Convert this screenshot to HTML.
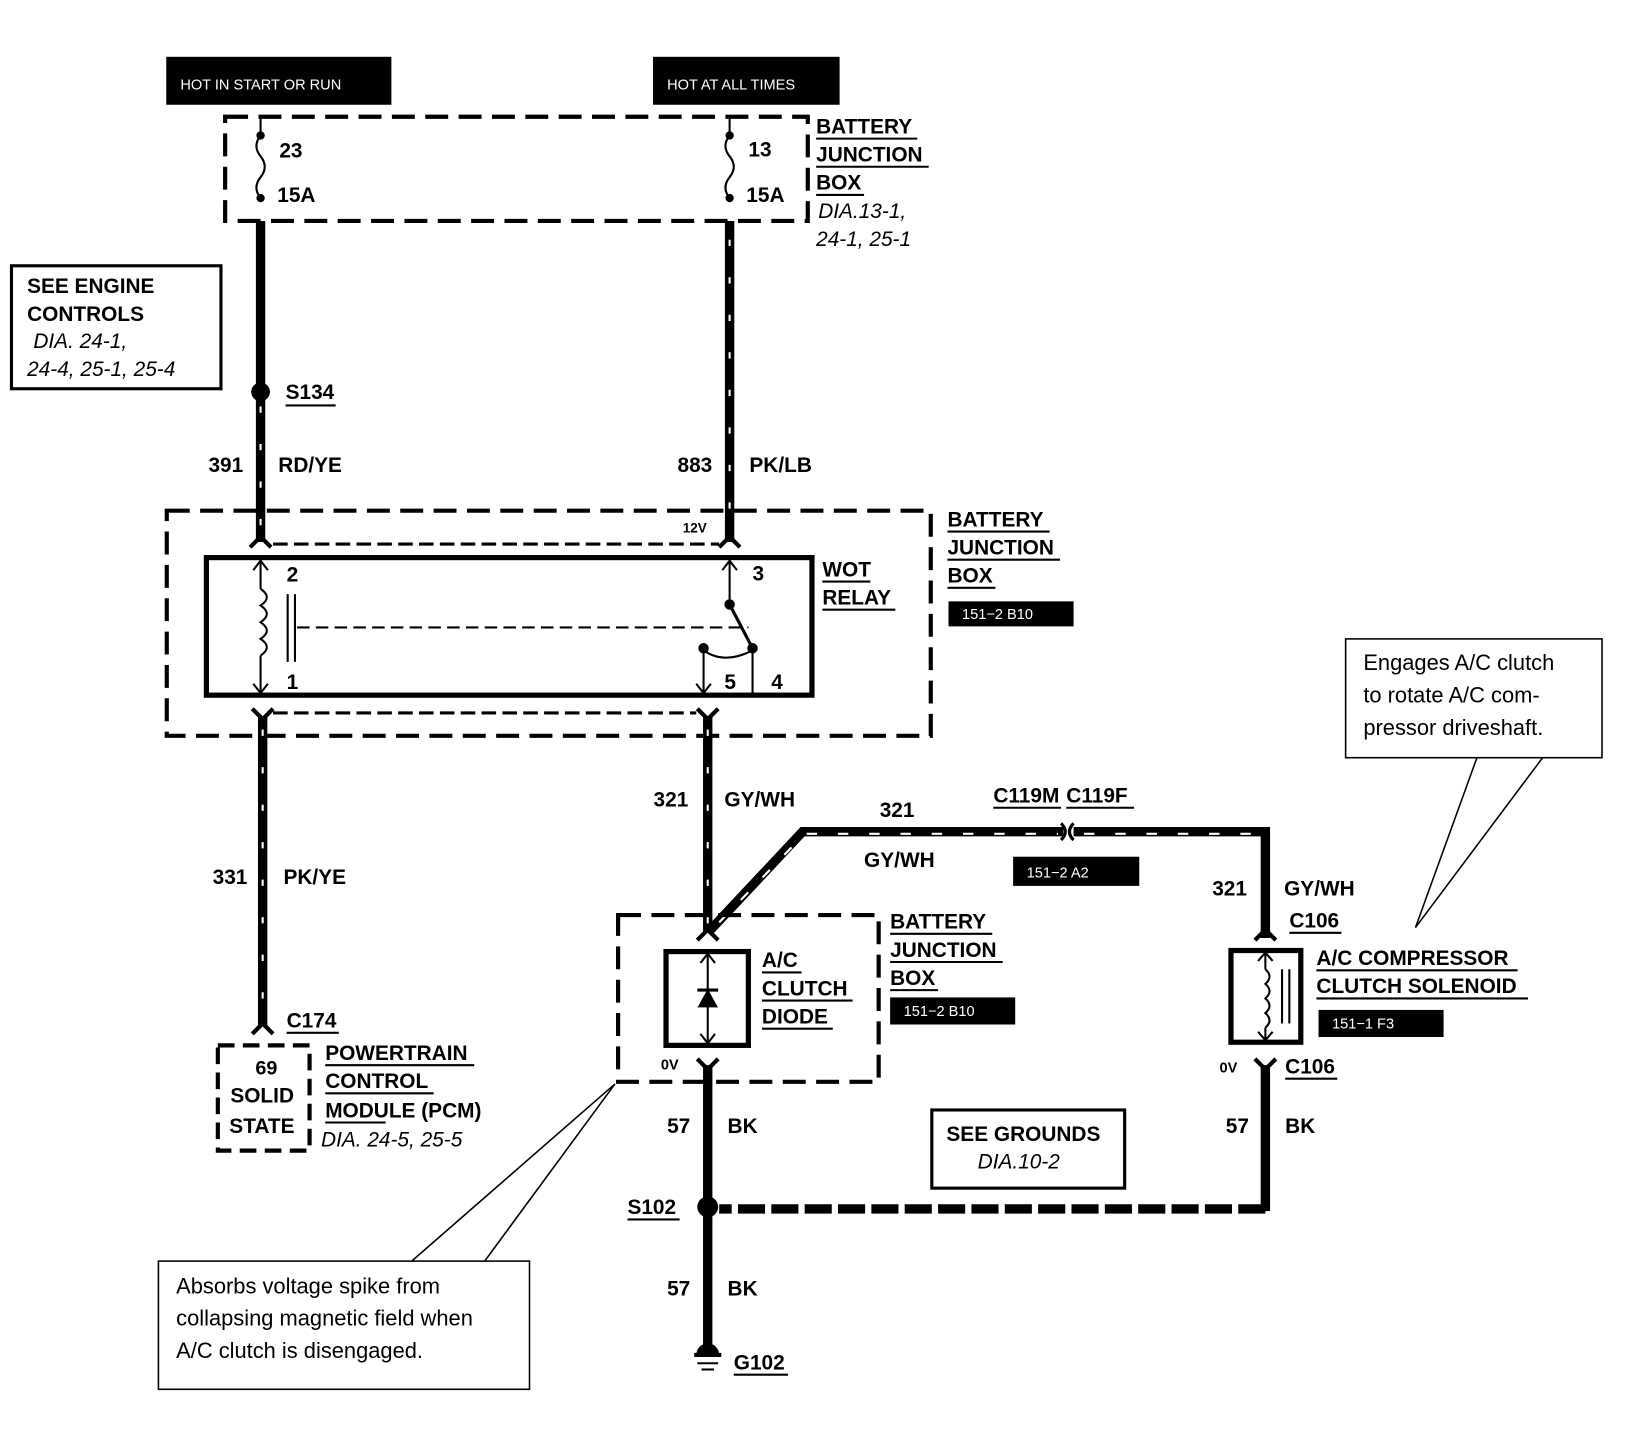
<!DOCTYPE html>
<html><head><meta charset="utf-8"><style>
html,body{margin:0;padding:0;background:#fff;}
svg{display:block;}
text{font-family:"Liberation Sans",Arial,sans-serif;fill:#000;}
.b{font-weight:bold;font-size:20px;}
.i{font-style:italic;font-size:20px;}
.s{font-size:14px;fill:#fff;}
.n{font-size:21px;}
</style></head><body>
<svg width="1626" height="1456" viewBox="0 0 1560 1397" preserveAspectRatio="none" xmlns="http://www.w3.org/2000/svg">
<g fill="none" stroke="#000">
<!-- top labels -->
<rect x="160" y="55" width="215" height="45" fill="#000"/>
<rect x="627" y="55" width="178" height="45" fill="#000"/>
<!-- fuse dashed box -->
<rect x="216" y="112" width="559" height="100" stroke-width="4" stroke-dasharray="22,10"/>
<!-- fuses -->
<line x1="250" y1="112" x2="250" y2="130" stroke-width="2"/>
<path d="M250 130 q-8 10 0 20 q8 10 0 20 q-8 10 0 20" stroke-width="2"/>
<line x1="700" y1="112" x2="700" y2="130" stroke-width="2"/>
<path d="M700 130 q-8 10 0 20 q8 10 0 20 q-8 10 0 20" stroke-width="2"/>
<!-- main wires -->
<line x1="250" y1="212" x2="250" y2="520" stroke-width="9"/>
<line x1="700" y1="212" x2="700" y2="520" stroke-width="9"/>
<line x1="700" y1="230" x2="700" y2="510" stroke="#fff" stroke-width="2" stroke-dasharray="6,30"/>
<line x1="250" y1="390" x2="250" y2="510" stroke="#fff" stroke-width="2" stroke-dasharray="6,30"/>
<path d="M240 525 L250 515 L260 525 M690 525 L700 515 L710 525" stroke-width="4"/>
<!-- engine controls box -->
<rect x="11" y="255" width="201" height="118" stroke-width="3"/>
<!-- big relay dashed box -->
<rect x="160" y="490" width="733" height="216" stroke-width="4" stroke-dasharray="22,10"/>
<line x1="262" y1="522" x2="690" y2="522" stroke-width="3" stroke-dasharray="14,6"/>
<line x1="262" y1="684" x2="668" y2="684" stroke-width="3" stroke-dasharray="14,6"/>
<rect x="198" y="535" width="581" height="132" stroke-width="5"/>
<!-- coil -->
<line x1="250" y1="537" x2="250" y2="565" stroke-width="2"/>
<path d="M250 565 q12 8 0 16 q12 8 0 16 q12 8 0 16 q12 8 0 16" stroke-width="2"/>
<line x1="250" y1="629" x2="250" y2="665" stroke-width="2"/>
<path d="M243 547 L250 538 L257 547 M243 656 L250 665 L257 656" stroke-width="2"/>
<line x1="276" y1="570" x2="276" y2="635" stroke-width="2"/>
<line x1="283" y1="570" x2="283" y2="635" stroke-width="2"/>
<line x1="285" y1="602" x2="718" y2="602" stroke-width="2" stroke-dasharray="12,6"/>
<!-- switch -->
<line x1="700" y1="537" x2="700" y2="580" stroke-width="2"/>
<path d="M693 547 L700 538 L707 547" stroke-width="2"/>
<line x1="700" y1="580" x2="722" y2="622" stroke-width="3"/>
<path d="M675 624 q20 14 47 0" stroke-width="2"/>
<line x1="675" y1="622" x2="675" y2="665" stroke-width="2"/>
<path d="M668 656 L675 665 L682 656" stroke-width="2"/>
<line x1="722" y1="622" x2="722" y2="667" stroke-width="2"/>
<!-- lower wires -->
<path d="M242 680 L252 690 L262 680 M669 680 L679 690 L689 680" stroke-width="4"/>
<line x1="252" y1="688" x2="252" y2="985" stroke-width="9"/>
<line x1="252" y1="700" x2="252" y2="980" stroke="#fff" stroke-width="2" stroke-dasharray="6,30"/>
<path d="M242 992 L252 982 L262 992" stroke-width="4"/>
<line x1="679" y1="688" x2="679" y2="895" stroke-width="9"/>
<line x1="679" y1="700" x2="679" y2="890" stroke="#fff" stroke-width="2" stroke-dasharray="6,30"/>
<path d="M679 895 L770 798 L1020 798 M1030 798 L1214 798 L1214 900" stroke-width="9"/>
<path d="M690 885 L772 800 L1015 800" stroke="#fff" stroke-width="2" stroke-dasharray="10,20"/>
<path d="M1040 800 L1210 800" stroke="#fff" stroke-width="2" stroke-dasharray="10,20"/>
<path d="M1018 790 q8 8 0 16 M1030 790 q-8 8 0 16" stroke-width="3"/>
<path d="M669 902 L679 892 L689 902 M1204 902 L1214 892 L1224 902" stroke-width="4"/>
<!-- PCM box -->
<rect x="209" y="1003" width="88" height="101" stroke-width="4" stroke-dasharray="16,8"/>
<!-- diode box -->
<rect x="593" y="878" width="250" height="160" stroke-width="4" stroke-dasharray="22,10"/>
<rect x="639" y="913" width="79" height="90" stroke-width="5"/>
<line x1="679" y1="915" x2="679" y2="1001" stroke-width="2"/>
<path d="M672 924 L679 915 L686 924 M672 992 L679 1001 L686 992" stroke-width="2"/>
<polygon points="670,966 688,966 679,950" fill="#000" stroke-width="1"/>
<line x1="669" y1="950" x2="689" y2="950" stroke-width="3"/>
<!-- solenoid -->
<rect x="1181" y="912" width="67" height="88" stroke-width="5"/>
<line x1="1214" y1="914" x2="1214" y2="930" stroke-width="2"/>
<path d="M1214 930 q8 7 0 14 q8 7 0 14 q8 7 0 14 q8 7 0 14" stroke-width="2"/>
<line x1="1214" y1="986" x2="1214" y2="998" stroke-width="2"/>
<path d="M1207 922 L1214 914 L1221 922 M1207 990 L1214 998 L1221 990" stroke-width="2"/>
<line x1="1230" y1="930" x2="1230" y2="982" stroke-width="2"/>
<line x1="1237" y1="930" x2="1237" y2="982" stroke-width="2"/>
<!-- ground wires -->
<path d="M669 1016 L679 1026 L689 1016 M1204 1016 L1214 1026 L1224 1016" stroke-width="4"/>
<line x1="679" y1="1022" x2="679" y2="1290" stroke-width="9"/>
<line x1="1214" y1="1022" x2="1214" y2="1162" stroke-width="9"/>
<line x1="1214" y1="1160" x2="690" y2="1160" stroke-width="9" stroke-dasharray="26,6"/>
<line x1="666" y1="1300" x2="692" y2="1300" stroke-width="4"/>
<line x1="669" y1="1308" x2="689" y2="1308" stroke-width="2"/>
<line x1="673" y1="1314" x2="685" y2="1314" stroke-width="2"/>
<!-- see grounds -->
<rect x="894" y="1065" width="185" height="75" stroke-width="3"/>
<!-- callouts -->
<rect x="1291" y="613" width="246" height="114" stroke-width="1.5"/>
<path d="M1417 727 L1358 890 L1480 727" stroke-width="1.5"/>
<rect x="152" y="1210" width="356" height="123" stroke-width="1.5"/>
<path d="M395 1210 L590 1040 L465 1210" stroke-width="1.5"/>
</g>
<circle cx="250" cy="376" r="9"/>
<circle cx="700" cy="580" r="5"/>
<circle cx="675" cy="622" r="5"/>
<circle cx="722" cy="622" r="5"/>
<circle cx="679" cy="1158" r="10"/>
<circle cx="250" cy="130" r="4"/><circle cx="250" cy="190" r="4"/>
<circle cx="700" cy="130" r="4"/><circle cx="700" cy="190" r="4"/>
<path d="M668 1300 a11 11 0 0 1 22 0z"/>
<!-- black tags -->
<rect x="910" y="577" width="120" height="24"/>
<rect x="972" y="822" width="121" height="28"/>
<rect x="854" y="957" width="120" height="26"/>
<rect x="1265" y="969" width="120" height="26"/>
<text class="s" x="173" y="86">HOT IN START OR RUN</text>
<text class="s" x="640" y="86">HOT AT ALL TIMES</text>
<text class="s" x="923" y="594">151−2 B10</text>
<text class="s" x="985" y="842">151−2 A2</text>
<text class="s" x="867" y="975">151−2 B10</text>
<text class="s" x="1278" y="987">151−1 F3</text>
<g class="b">
<text x="268" y="151">23</text><text x="266" y="194">15A</text>
<text x="718" y="150">13</text><text x="716" y="194">15A</text>
<text x="783" y="128">BATTERY</text><text x="783" y="155">JUNCTION</text><text x="783" y="182">BOX</text>
<text x="26" y="281">SEE ENGINE</text><text x="26" y="308">CONTROLS</text>
<text x="274" y="383">S134</text>
<text x="200" y="453">391</text><text x="267" y="453">RD/YE</text>
<text x="650" y="453">883</text><text x="719" y="453">PK/LB</text>
<text x="655" y="511" style="font-size:13px">12V</text>
<text x="275" y="558">2</text><text x="275" y="661">1</text><text x="722" y="557">3</text><text x="695" y="661">5</text><text x="740" y="661">4</text>
<text x="789" y="553">WOT</text><text x="789" y="580">RELAY</text>
<text x="909" y="505">BATTERY</text><text x="909" y="532">JUNCTION</text><text x="909" y="559">BOX</text>
<text x="627" y="774">321</text><text x="695" y="774">GY/WH</text>
<text x="204" y="848">331</text><text x="272" y="848">PK/YE</text>
<text x="844" y="784">321</text><text x="829" y="832">GY/WH</text>
<text x="953" y="770">C119M</text><text x="1023" y="770">C119F</text>
<text x="1163" y="859">321</text><text x="1232" y="859">GY/WH</text>
<text x="1237" y="890">C106</text>
<text x="275" y="986">C174</text>
<text x="245" y="1031" style="font-size:19px">69</text><text x="221" y="1058">SOLID</text><text x="220" y="1087">STATE</text>
<text x="312" y="1017">POWERTRAIN</text><text x="312" y="1044">CONTROL</text><text x="312" y="1072">MODULE (PCM)</text>
<text x="854" y="891">BATTERY</text><text x="854" y="918">JUNCTION</text><text x="854" y="945">BOX</text>
<text x="731" y="928">A/C</text><text x="731" y="955">CLUTCH</text><text x="731" y="982">DIODE</text>
<text x="1263" y="926">A/C COMPRESSOR</text><text x="1263" y="953">CLUTCH SOLENOID</text>
<text x="634" y="1026" style="font-size:14px">0V</text><text x="1170" y="1029" style="font-size:14px">0V</text>
<text x="1233" y="1030">C106</text>
<text x="640" y="1087">57</text><text x="698" y="1087">BK</text>
<text x="1176" y="1087">57</text><text x="1233" y="1087">BK</text>
<text x="908" y="1095">SEE GROUNDS</text>
<text x="602" y="1165">S102</text>
<text x="640" y="1243">57</text><text x="698" y="1243">BK</text>
<text x="704" y="1314">G102</text>
</g>
<g class="i">
<text x="785" y="209">DIA.13-1,</text><text x="783" y="236">24-1, 25-1</text>
<text x="32" y="334">DIA. 24-1,</text><text x="26" y="361">24-4, 25-1, 25-4</text>
<text x="308" y="1100">DIA. 24-5, 25-5</text>
<text x="938" y="1121">DIA.10-2</text>
</g>
<g fill="none" stroke="#000" stroke-width="2">
<path d="M783 133h97M783 160h108M783 187h46M274 389h48M909 510h98M909 537h108M909 564h46M789 558h46M789 585h70M953 775h65M1023 775h65M1237 895h50M275 991h50M312 1022h143M312 1049h104M312 1077h58M854 896h98M854 923h108M854 950h46M731 933h38M731 960h87M731 987h68M1263 931h193M1263 958h203M1233 1035h50M602 1170h50M704 1319h52"/>
</g>
<g class="n">
<text x="1308" y="643">Engages A/C clutch</text>
<text x="1308" y="674">to rotate A/C com-</text>
<text x="1308" y="705">pressor driveshaft.</text>
<text x="169" y="1241">Absorbs voltage spike from</text>
<text x="169" y="1272">collapsing magnetic field when</text>
<text x="169" y="1303">A/C clutch is disengaged.</text>
</g>
</svg>
</body></html>
